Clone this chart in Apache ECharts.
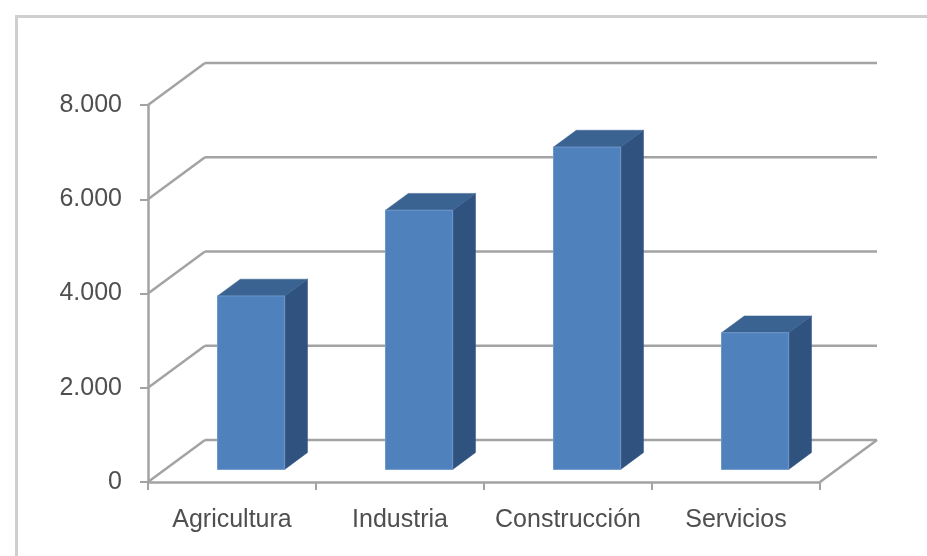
<!DOCTYPE html>
<html>
<head>
<meta charset="utf-8">
<script src="https://cdn.jsdelivr.net/npm/echarts@6/dist/echarts.min.js"></script>
<style>html,body{margin:0;padding:0;background:#fff;}#c{width:927px;height:556px;}</style>
</head>
<body>
<div id="c"></div>
<script>
const categories = ['Agricultura', 'Industria', 'Construcción', 'Servicios'];
const values = [3680, 5500, 6840, 2900];
const yTicks = [0, 2000, 4000, 6000, 8000];

const DX = 57, DY = -42;          // depth of the 3D box (pixels)
const FRONT = 0.3, DEPTH = 0.4;   // bar position inside the depth
const lineColor = '#A3A3A3';
const textColor = '#4F4F4F';
const font = '"Liberation Sans", Arial, sans-serif';

const chart = echarts.init(document.getElementById('c'), null, {renderer: 'canvas'});
chart.setOption({
  animation: false,
  backgroundColor: '#fff',
  graphic: [{
    type: 'rect', left: 14, top: 14, shape: {x: 0, y: 0, width: 1000, height: 1000},
    style: {fill: 'none', stroke: '#CFCFCF', lineWidth: 3}, silent: true
  }],
  grid: {left: 148, right: 107, top: 105, bottom: 74, containLabel: false},
  xAxis: {
    type: 'category', data: categories, boundaryGap: true,
    axisLine: {show: true, lineStyle: {color: lineColor, width: 2.5}},
    axisTick: {show: true, interval: 0, length: 8, lineStyle: {color: lineColor, width: 2}},
    axisLabel: {interval: 0, color: textColor, fontFamily: font, fontSize: 25, margin: 26},
    splitLine: {show: false}
  },
  yAxis: {
    type: 'value', min: 0, max: 8000, interval: 2000,
    axisLine: {show: true, lineStyle: {color: lineColor, width: 2.5}},
    axisTick: {show: true, length: 8, lineStyle: {color: lineColor, width: 2}},
    axisLabel: {
      color: textColor, fontFamily: font, fontSize: 25, margin: 26,
      formatter: v => v === 0 ? '0' : v.toLocaleString('de-DE')
    },
    splitLine: {show: false}
  },
  series: [
    {
      type: 'custom', name: 'walls', z: 1, clip: false, silent: true,
      data: yTicks.map(v => [0, v]),
      renderItem: function (params, api) {
        const cs = params.coordSys;
        const p = api.coord([0, api.value(1)]);
        const y = p[1];
        const x0 = cs.x, x1 = cs.x + cs.width;
        const style = {stroke: lineColor, lineWidth: 2.5, fill: 'none'};
        const children = [
          {type: 'line', shape: {x1: x0, y1: y, x2: x0 + DX, y2: y + DY}, style: style},
          {type: 'line', shape: {x1: x0 + DX, y1: y + DY, x2: x1 + DX, y2: y + DY}, style: style}
        ];
        if (api.value(1) === 0) {
          children.push({type: 'line', shape: {x1: x1, y1: y, x2: x1 + DX, y2: y + DY}, style: style});
        }
        return {type: 'group', children: children};
      }
    },
    {
      type: 'custom', name: 'bars', z: 2, clip: false,
      data: values.map((v, i) => [i, v]),
      renderItem: function (params, api) {
        const top = api.coord([api.value(0), api.value(1)]);
        const base = api.coord([api.value(0), 0]);
        const bw = api.size([1, 0])[0];
        const w = bw * 0.4;
        const fx = DX * FRONT + 2, fy = DY * FRONT;
        const dx = DX * DEPTH, dy = DY * DEPTH;
        const xl = top[0] - w / 2 + fx, xr = xl + w;
        const yt = top[1] + fy, yb = base[1] + fy;
        return {
          type: 'group',
          children: [
            {type: 'polygon', shape: {points: [[xr, yt], [xr + dx, yt + dy], [xr + dx, yb + dy], [xr, yb]]},
              style: {fill: '#30527F', stroke: '#30527F', lineWidth: 0.5}},
            {type: 'polygon', shape: {points: [[xl, yt], [xl + dx, yt + dy], [xr + dx, yt + dy], [xr, yt]]},
              style: {fill: '#3A6392', stroke: '#3A6392', lineWidth: 0.5}},
            {type: 'rect', shape: {x: xl, y: yt, width: w, height: yb - yt},
              style: {fill: '#4F81BD', stroke: '#6E97CB', lineWidth: 1}}
          ]
        };
      }
    }
  ]
});
</script>
</body>
</html>
